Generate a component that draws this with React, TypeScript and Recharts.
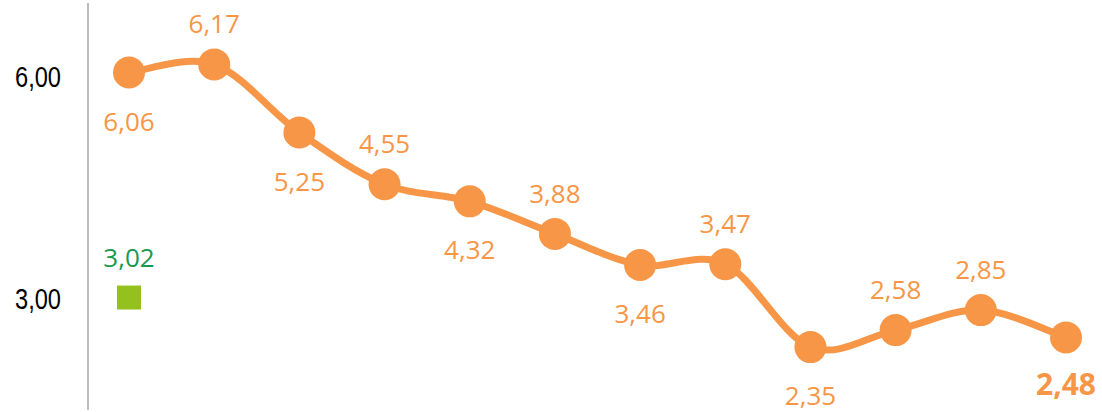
import { LineChart, Line, XAxis, YAxis, LabelList } from 'recharts'

const categories = ['1', '2', '3', '4', '5', '6', '7', '8', '9', '10', '11', '12']
const mainValues = [6.06, 6.17, 5.25, 4.55, 4.32, 3.88, 3.46, 3.47, 2.35, 2.58, 2.85, 2.48]
const refValues: (number | null)[] = [3.02, null, null, null, null, null, null, null, null, null, null, null]
const yTicks = [3, 6]

// label placement per point: true = above the marker
const labelAbove = [false, true, false, true, false, true, false, true, false, true, true, false]

const data = categories.map((name, i) => ({ name, main: mainValues[i], ref: refValues[i] }))

const ORANGE = '#F79646'
const GREEN_TEXT = '#179A4E'
const GREEN_BOX = '#95C11F'
const labelFont = "'Open Sans', 'Noto Sans', sans-serif"

const fmt = (v: number) => v.toFixed(2).replace('.', ',')

// Excel-like smoothing (uniform Catmull-Rom as cubic beziers)
const smoothCurve = (context: any) => {
  let pts: [number, number][] = []
  return {
    areaStart() {},
    areaEnd() {},
    lineStart() {
      pts = []
    },
    point(x: number, y: number) {
      pts.push([+x, +y])
    },
    lineEnd() {
      if (!pts.length) return
      context.moveTo(pts[0][0], pts[0][1])
      for (let i = 0; i < pts.length - 1; i++) {
        const p0 = pts[i - 1] || pts[i]
        const p1 = pts[i]
        const p2 = pts[i + 1]
        const p3 = pts[i + 2] || pts[i + 1]
        context.bezierCurveTo(
          p1[0] + (p2[0] - p0[0]) / 6,
          p1[1] + (p2[1] - p0[1]) / 6,
          p2[0] - (p3[0] - p1[0]) / 6,
          p2[1] - (p3[1] - p1[1]) / 6,
          p2[0],
          p2[1]
        )
      }
    },
  }
}

const MainLabel = (props: any) => {
  const { x, y, value, index } = props
  if (value == null) return null
  const above = labelAbove[index]
  const last = index === mainValues.length - 1
  return (
    <text
      x={x}
      y={above ? y - 31 : y + 58}
      textAnchor="middle"
      fill={ORANGE}
      fontFamily={labelFont}
      fontSize={last ? 30 : 26}
      fontWeight={last ? 700 : 400}
    >
      {fmt(value)}
    </text>
  )
}

const RefLabel = (props: any) => {
  const { x, y, value } = props
  if (value == null) return null
  return (
    <text x={x} y={y - 31} textAnchor="middle" fill={GREEN_TEXT} fontFamily={labelFont} fontSize={26}>
      {fmt(value)}
    </text>
  )
}

const SquareDot = (props: any) => {
  const { cx, cy, value, index } = props
  if (value == null || cx == null || cy == null) return <g key={`sq-${index}`} />
  return <rect key={`sq-${index}`} x={cx - 12} y={cy - 12} width={24} height={24} fill={GREEN_BOX} />
}

const YTick = (props: any) => {
  const { x, y, payload } = props
  return (
    <text
      x={x}
      y={y}
      dy="0.36em"
      textAnchor="end"
      fill="#000"
      fontSize={29}
      fontFamily="'Liberation Sans', Arial, sans-serif"
      textLength={46}
      lengthAdjust="spacingAndGlyphs"
    >
      {fmt(payload.value)}
    </text>
  )
}

export default function App() {
  return (
    <div style={{ position: 'absolute', top: 0, left: 0, background: '#fff' }}>
      <LineChart width={1102} height={412} data={data} margin={{ top: 3, right: 0, bottom: 2, left: 0 }}>
        <XAxis dataKey="name" hide padding={{ left: 41, right: 36 }} />
        <YAxis
          domain={[1.5, 7]}
          ticks={yTicks}
          width={88}
          tickLine={false}
          tickSize={0}
          tickMargin={27}
          axisLine={{ stroke: '#A6A6A6', strokeWidth: 1.5 }}
          tick={YTick}
        />
        <Line
          dataKey="main"
          type={smoothCurve as any}
          stroke={ORANGE}
          strokeWidth={7}
          dot={{ r: 16, fill: ORANGE, stroke: 'none' }}
          activeDot={false}
          isAnimationActive={false}
        >
          <LabelList dataKey="main" content={MainLabel} />
        </Line>
        <Line
          dataKey="ref"
          stroke="none"
          dot={SquareDot}
          activeDot={false}
          isAnimationActive={false}
        >
          <LabelList dataKey="ref" content={RefLabel} />
        </Line>
      </LineChart>
    </div>
  )
}
